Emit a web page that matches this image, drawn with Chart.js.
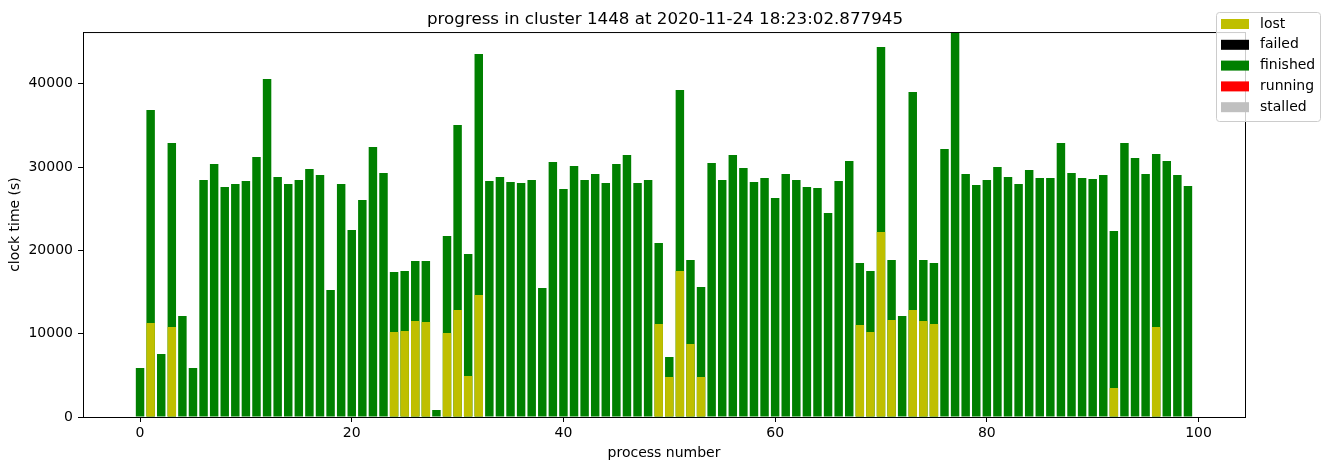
<!DOCTYPE html>
<html>
<head>
<meta charset="utf-8">
<title>progress in cluster 1448</title>
<script src="https://cdn.jsdelivr.net/npm/chart.js@4/dist/chart.umd.min.js"></script>
<style>
  html, body { margin: 0; padding: 0; background: #fff; }
  #wrap { width: 1330px; height: 470px; }
</style>
</head>
<body>
<div id="wrap"><canvas id="chart" width="1330" height="470"></canvas></div>
<script>
// process index on the x axis
const processNumbers = [...Array(100).keys()];

// total clock time per process (green "finished" bar, full height)
const finishedTime = [
  5880, 36840, 7560, 32880, 12120, 5880, 28440, 30360, 27600, 27960,
  28320, 31200, 40560, 28800, 27960, 28440, 29760, 29040, 15240, 27960,
  22440, 26040, 32400, 29280, 17400, 17520, 18720, 18720, 840, 21720,
  35040, 19560, 43560, 28320, 28800, 28200, 28080, 28440, 15480, 30600,
  27360, 30120, 28440, 29160, 28080, 30360, 31440, 28080, 28440, 20880,
  7200, 39240, 18840, 15600, 30480, 28440, 31440, 29880, 28200, 28680,
  26280, 29160, 28440, 27600, 27480, 24480, 28320, 30720, 18480, 17520,
  44400, 18840, 12120, 39000, 18840, 18480, 32160, 46200, 29160, 27840,
  28440, 30000, 28800, 27960, 29640, 28680, 28680, 32880, 29280, 28680,
  28560, 29040, 22320, 32880, 31080, 29160, 31560, 30720, 29040, 27720
];

// time lost before restart (yellow, drawn over the bottom of the bar)
const lostTime = [
  null, 11280, null, 10800, null, null, null, null, null, null,
  null, null, null, null, null, null, null, null, null, null,
  null, null, null, null, 10200, 10320, 11520, 11400, null, 10080,
  12840, 4920, 14640, null, null, null, null, null, null, null,
  null, null, null, null, null, null, null, null, null, 11160,
  4800, 17520, 8760, 4800, null, null, null, null, null, null,
  null, null, null, null, null, null, null, null, 11040, 10200,
  22200, 11640, null, 12840, 11520, 11160, null, null, null, null,
  null, null, null, null, null, null, null, null, null, null,
  null, null, 3480, null, null, null, 10800, null, null, null
];

const xTicks = [0, 20, 40, 60, 80, 100];
const yTicks = [0, 10000, 20000, 30000, 40000];

const toPoints = (vals) => processNumbers.map((x, i) => ({ x, y: vals[i] }));

Chart.defaults.font.family = "'DejaVu Sans', sans-serif";
Chart.defaults.font.size = 14;
Chart.defaults.color = "#000";

// matplotlib style axes box
const frame = {
  id: "frame",
  afterDatasetsDraw(chart) {
    const { ctx, chartArea: a } = chart;
    ctx.save();
    ctx.strokeStyle = "#000";
    ctx.lineWidth = 1;
    ctx.strokeRect(a.left + 0.5, a.top + 0.5, a.right - a.left, a.bottom - a.top);
    ctx.restore();
  },
};

// legend box in the top right corner, partly outside the axes
const cornerLegend = {
  id: "cornerLegend",
  afterDraw(chart) {
    const { ctx } = chart;
    const x0 = 1216, y0 = 12, w = 104, h = 109;
    ctx.save();
    ctx.fillStyle = "rgba(255,255,255,0.8)";
    ctx.strokeStyle = "#cccccc";
    ctx.lineWidth = 1;
    ctx.beginPath();
    ctx.roundRect(x0 + 0.5, y0 + 0.5, w, h, 3);
    ctx.fill();
    ctx.stroke();
    ctx.font = "14px 'DejaVu Sans', sans-serif";
    ctx.textBaseline = "middle";
    chart.data.datasets.forEach((ds, i) => {
      const cy = 24 + i * 20.8;
      ctx.fillStyle = ds.backgroundColor;
      ctx.fillRect(1221, cy - 5, 28, 10);
      ctx.fillStyle = "#000";
      ctx.fillText(ds.label, 1260, cy);
    });
    ctx.restore();
  },
};

const barOpts = { borderWidth: 0, categoryPercentage: 0.8, barPercentage: 1.0 };

new Chart(document.getElementById("chart"), {
  type: "bar",
  data: {
    datasets: [
      { label: "lost", data: toPoints(lostTime), backgroundColor: "#bfbf00", order: 0, ...barOpts },
      { label: "failed", data: [], backgroundColor: "#000000", order: 1, ...barOpts },
      { label: "finished", data: toPoints(finishedTime), backgroundColor: "#008000", order: 2, ...barOpts },
      { label: "running", data: [], backgroundColor: "#ff0000", order: 3, ...barOpts },
      { label: "stalled", data: [], backgroundColor: "#c0c0c0", order: 4, ...barOpts },
    ],
  },
  options: {
    responsive: false,
    animation: false,
    devicePixelRatio: 1,
    layout: { padding: 0 },
    plugins: {
      legend: { display: false },
      tooltip: { enabled: false },
      title: {
        display: true,
        text: "progress in cluster 1448 at 2020-11-24 18:23:02.877945",
        font: { size: 16.7, weight: "normal" },
        color: "#000",
        padding: { top: 10, bottom: 2 },
      },
    },
    scales: {
      x: {
        type: "linear",
        stacked: true,
        offset: false,
        min: -5.39,
        max: 104.39,
        afterBuildTicks: (s) => { s.ticks = xTicks.map((v) => ({ value: v })); },
        afterFit: (s) => { s.height = 53; },
        ticks: { padding: 3, maxRotation: 0, autoSkip: false, callback: (v) => String(v) },
        grid: { drawOnChartArea: false, offset: false, tickLength: 5, color: "#000" },
        border: { color: "#000" },
        title: { display: true, text: "process number", padding: { top: 0, bottom: 8 } },
      },
      y: {
        stacked: false,
        min: 0,
        max: 46200,
        afterBuildTicks: (s) => { s.ticks = yTicks.map((v) => ({ value: v })); },
        afterFit: (s) => { s.width = 83; },
        ticks: { padding: 5, callback: (v) => String(v) },
        grid: { drawOnChartArea: false, tickLength: 5, color: "#000" },
        border: { color: "#000" },
        title: { display: true, text: "clock time (s)", padding: { top: 7, bottom: 0 } },
      },
      // empty right-hand margin so the axes sit like the matplotlib figure
      spacer: {
        position: "right",
        display: true,
        afterFit: (s) => { s.width = 85; },
        ticks: { display: false },
        grid: { display: false },
        border: { display: false },
      },
    },
  },
  plugins: [frame, cornerLegend],
});
</script>
</body>
</html>
